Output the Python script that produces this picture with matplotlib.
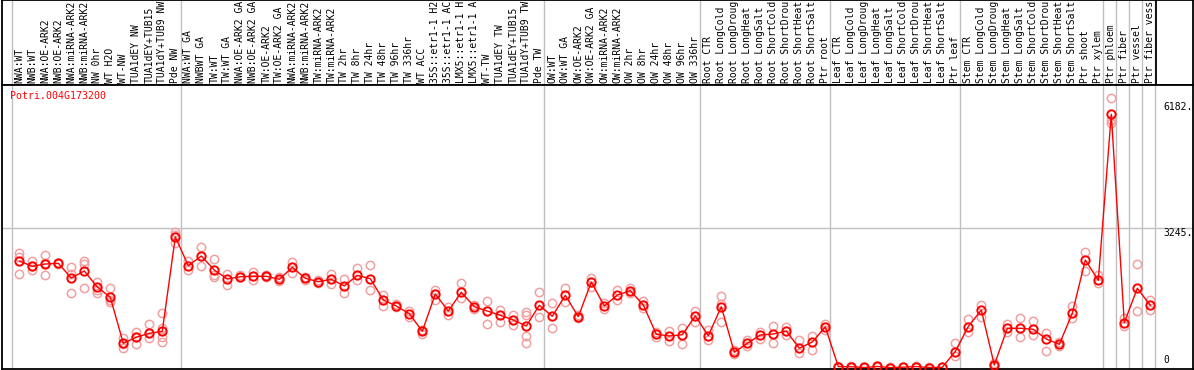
import matplotlib
matplotlib.use("Agg")
import matplotlib.pyplot as plt

labels = [
    "NWA:WT", "NWB:WT", "NWA:OE-ARK2", "NWB:OE-ARK2", "NWA:miRNA-ARK2", "NWB:miRNA-ARK2",
    "NW 0hr", "WT H2O", "WT-NW", "TUA1dEY NW", "TUA1dEY+TUB15", "TUA1dY+TUB9 NW", "Pde NW",
    "NWA:WT GA", "NWBWT GA", "TW:WT", "TW:WT GA", "NWA:OE-ARK2 GA", "NWB:OE-ARK2 GA",
    "TW:OE-ARK2", "TW:OE-ARK2 GA", "NWA:miRNA-ARK2", "NWB:miRNA-ARK2", "TW:miRNA-ARK2",
    "TW:miRNA-ARK2", "TW 2hr", "TW 8hr", "TW 24hr", "TW 48hr", "TW 96hr", "TW 336hr",
    "WT ACC", "35S::etr1-1 H2", "35S::etr1-1 AC", "LMX5::etr1-1 H", "LMX5::etr1-1 A",
    "WT-TW", "TUA1dEY TW", "TUA1dEY+TUB15", "TUA1dY+TUB9 TW", "Pde TW",
    "OW:WT", "OW:WT GA", "OW:OE-ARK2", "OW:OE-ARK2 GA", "OW:miRNA-ARK2", "OW:miRNA-ARK2",
    "OW 2hr", "OW 8hr", "OW 24hr", "OW 48hr", "OW 96hr", "OW 336hr",
    "Root CTR", "Root LongCold", "Root LongDroug", "Root LongHeat", "Root LongSalt",
    "Root ShortCold", "Root ShortDrou", "Root ShortHeat", "Root ShortSalt", "Ptr root",
    "Leaf CTR", "Leaf LongCold", "Leaf LongDroug", "Leaf LongHeat", "Leaf LongSalt",
    "Leaf ShortCold", "Leaf ShortDrou", "Leaf ShortHeat", "Leaf ShortSalt", "Ptr leaf",
    "Stem CTR", "Stem LongCold", "Stem LongDroug", "Stem LongHeat", "Stem LongSalt",
    "Stem ShortCold", "Stem ShortDrou", "Stem ShortHeat", "Stem ShortSalt", "Ptr shoot",
    "Ptr xylem", "Ptr phloem", "Ptr fiber", "Ptr vessel", "Ptr fiber vess",
]

means = [
    2484, 2361, 2414, 2430, 2088, 2251, 1879, 1639, 568, 708, 801, 847, 3043,
    2375, 2600, 2274, 2065, 2118, 2128, 2128, 2058, 2337, 2081, 2002, 2058, 1902,
    2151, 2072, 1576, 1436, 1257, 847, 1716, 1320, 1755, 1420, 1320, 1220, 1110,
    971, 1453,
    1197, 1685, 1187, 1995, 1436, 1692, 1793, 1460, 778, 738, 768, 1204,
    745, 1420, 359, 568, 761, 785, 854, 452, 598, 948,
    25, 22, 5, 28, 3, 12, 26, 4, 10, 377,
    959, 1343, 63, 917, 917, 894, 668, 545, 1266, 2507, 2035,
    5899, 1048, 1848, 1453,
]

replicates = [
    [2677, 2584, 2181], [2484, 2274, 2368], [2624, 2430, 2158], [2444, 2414],
    [2337, 2181, 1732], [2484, 2407, 1848], [2002, 1809, 1746], [1848, 1576, 1529],
    [698, 466, 552], [831, 552, 722], [1010, 684, 801], [1266, 931, 708, 605],
    [3152, 2896, 3089],
    [2484, 2274], [2810, 2368], [2524, 2158, 2118], [2181, 1918], [2158, 2100],
    [2235, 2042], [2158, 2100], [2111, 2018], [2468, 2198], [2123, 2042],
    [2042, 1965], [2181, 1941], [2058, 1746], [2328, 2042], [2391, 1809],
    [1692, 1436], [1483, 1406], [1327, 1173], [878, 785], [1809, 1576],
    [1406, 1220], [1965, 1630], [1453, 1374], [1553, 1010], [1343, 1057],
    [1227, 994], [1304, 1227, 738, 568], [1755, 1180],
    [1499, 917], [1848, 1523], [1227, 1150], [2081, 1886], [1506, 1367],
    [1809, 1576], [1848, 1746], [1553, 1383], [831, 722], [854, 629],
    [917, 545], [1320, 1057],
    [878, 645], [1676, 1483, 1057], [412, 319], [645, 505], [838, 661],
    [971, 568], [954, 761], [645, 335], [738, 412], [1010, 878],
    [30, 18], [28, 15], [8, 2], [35, 20], [6, 0], [15, 8], [30, 20], [8, 0], [14, 6],
    [568, 272],
    [1134, 824], [1460, 1173], [116, 40], [1017, 824], [1150, 708], [1094, 761],
    [801, 389], [598, 505], [1436, 1150], [2686, 2258], [2158, 1965],
    [6272, 5766, 5690], [1150, 971], [2407, 1320], [1576, 1343],
]

boundaries = [-0.6, 12.4, 40.4, 52.4, 62.4, 72.4, 83.4, 84.4, 85.4, 86.4, 87.4]
gene_name = "Potri.004G173200"
ytick_values = [6182, 3245, 0]
ytick_labels = ["6182.", "3245.", "0"]

W, H = 1194, 370
fig = plt.figure(figsize=(W / 100, H / 100), dpi=100)

def rect(l, t, r, b):
    return [l / W, 1 - b / H, (r - l) / W, (b - t) / H]

x_lo = (2 - 19.3) / 13
x_hi = (1193 - 19.3) / 13
scale = 23.28
y_lo = -(369 - 367.7) * scale
y_hi = (367.7 - 85) * scale

mono = "DejaVu Sans Mono"
grid_c = "#c0c0c0"

# header
hax = fig.add_axes(rect(2, 0, 1193, 85))
hax.set_xlim(x_lo, x_hi)
hax.set_ylim(0, 1)
hax.set_xticks([]); hax.set_yticks([])
for s in hax.spines.values():
    s.set_color("black"); s.set_linewidth(1.3)
for b in boundaries:
    hax.axvline(b, color=grid_c, lw=1, zorder=0)
hax.axvline(87.45, color="black", lw=1.3)
for i, lab in enumerate(labels):
    hax.text(i, 2 / 85, lab, rotation=90, ha="center", va="bottom",
             family=mono, fontsize=7, color="black", clip_on=True)

# main plot
ax = fig.add_axes(rect(2, 85, 1193, 369))
ax.set_xlim(x_lo, x_hi)
ax.set_ylim(y_lo, y_hi)
ax.set_xticks([]); ax.set_yticks([])
for s in ax.spines.values():
    s.set_color("black"); s.set_linewidth(1.3)
for b in boundaries:
    ax.axvline(b, color=grid_c, lw=1, zorder=0)
ax.axhline(3245, color=grid_c, lw=1, zorder=0)

xs = list(range(len(means)))
for i, reps in enumerate(replicates):
    ax.plot([i] * len(reps), reps, linestyle="none", marker="o", ms=6,
            mfc="none", mec="#f0a0a0", mew=1.1, zorder=2)
ax.plot(xs, means, color="red", lw=1, zorder=3)
ax.plot(xs, means, linestyle="none", marker="o", ms=6, mfc="none",
        mec="red", mew=1.4, zorder=4)

for v, t in zip(ytick_values, ytick_labels):
    va = "top" if v > 0 else "bottom"
    yy = v if v > 0 else 58
    ax.text((1163 - 2) / 1191, yy, t, transform=ax.get_yaxis_transform(),
            ha="left", va=va, family=mono, fontsize=7, color="black")

ax.text((10 - 2) / 1191, 1 - (96 - 85) / 284, gene_name, transform=ax.transAxes,
        ha="left", va="center", family=mono, fontsize=7.1, color="red")

fig.savefig("out.png", dpi=100)
